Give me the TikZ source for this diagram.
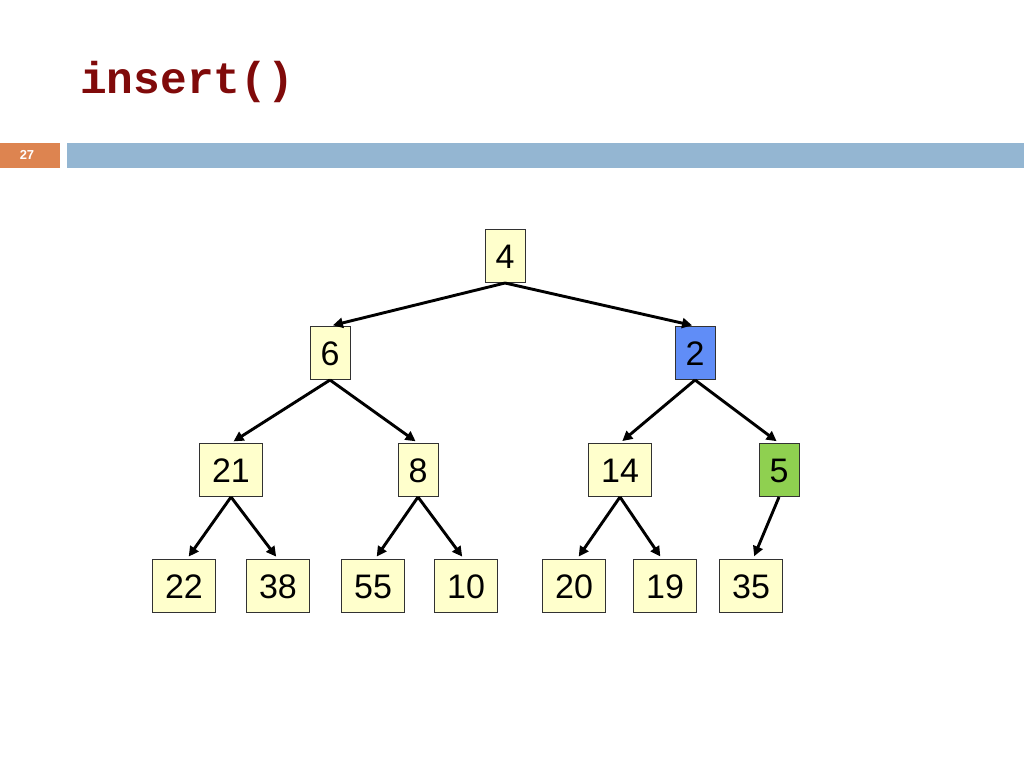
\documentclass[tikz,border=0pt]{standalone}
\usepackage{fontspec}
\setmainfont{Liberation Sans}
\newfontfamily\titlefont{Liberation Mono}
\usetikzlibrary{arrows.meta}
\definecolor{titlered}{RGB}{128,10,10}
\definecolor{numorange}{RGB}{221,132,80}
\definecolor{barblue}{RGB}{148,182,210}
\definecolor{boxyellow}{RGB}{255,255,204}
\definecolor{boxblue}{RGB}{96,141,247}
\definecolor{boxgreen}{RGB}{143,208,80}
\definecolor{boxborder}{RGB}{50,50,50}
\tikzset{
  heapbox/.style={draw=boxborder, line width=1pt, fill=boxyellow, minimum height=53pt,
    inner sep=0pt, font=\fontsize{34}{36}\selectfont, text height=26pt, text depth=2pt},
  onedig/.style={heapbox, minimum width=40pt},
  twodig/.style={heapbox, minimum width=63pt},
  edge/.style={line width=2.9pt, -{Triangle[length=10pt,width=10pt]}, shorten >=3pt, shorten <=0pt}
}
\begin{document}
\begin{tikzpicture}[x=1pt,y=-1pt]
\useasboundingbox (0,0) rectangle (1024,768);
\fill[white] (0,0) rectangle (1024,768);
% header
\node[anchor=base west, inner sep=0pt, text=titlered, font=\titlefont\bfseries\fontsize{44.5}{45}\selectfont] (title) at (80,93) {insert()};
\fill[numorange] (0,143) rectangle (60,168);
\fill[barblue] (67,143) rectangle (1024,168);
\node[text=white, font=\bfseries\fontsize{13}{14}\selectfont, inner sep=0pt] (pagenum) at (27,155) {27};
% nodes
\node[onedig] (n4) at (505,256) {4};
\node[onedig] (n6) at (330,353) {6};
\node[onedig, fill=boxblue] (n2) at (695,353) {2};
\node[twodig] (n21) at (231,470) {21};
\node[onedig] (n8) at (418,470) {8};
\node[twodig] (n14) at (620,470) {14};
\node[onedig, fill=boxgreen] (n5) at (779,470) {5};
\node[twodig] (n22) at (184,586) {22};
\node[twodig] (n38) at (278,586) {38};
\node[twodig] (n55) at (373,586) {55};
\node[twodig] (n10) at (466,586) {10};
\node[twodig] (n20) at (574,586) {20};
\node[twodig] (n19) at (665,586) {19};
\node[twodig] (n35) at (751,586) {35};
% edges
\draw[edge] (n4.south) -- (n6.north);
\draw[edge] (n4.south) -- (n2.north);
\draw[edge] (n6.south) -- (n21.north);
\draw[edge] (n6.south) -- (n8.north);
\draw[edge] (n2.south) -- (n14.north);
\draw[edge] (n2.south) -- (n5.north);
\draw[edge] (n21.south) -- ([xshift=3pt]n22.north);
\draw[edge] (n21.south) -- (n38.north);
\draw[edge] (n8.south) -- ([xshift=2pt]n55.north);
\draw[edge] (n8.south) -- ([xshift=-2pt]n10.north);
\draw[edge] (n14.south) -- ([xshift=3pt]n20.north);
\draw[edge] (n14.south) -- ([xshift=-3pt]n19.north);
\draw[edge] (n5.south) -- ([xshift=2pt]n35.north);
\end{tikzpicture}
\end{document}
